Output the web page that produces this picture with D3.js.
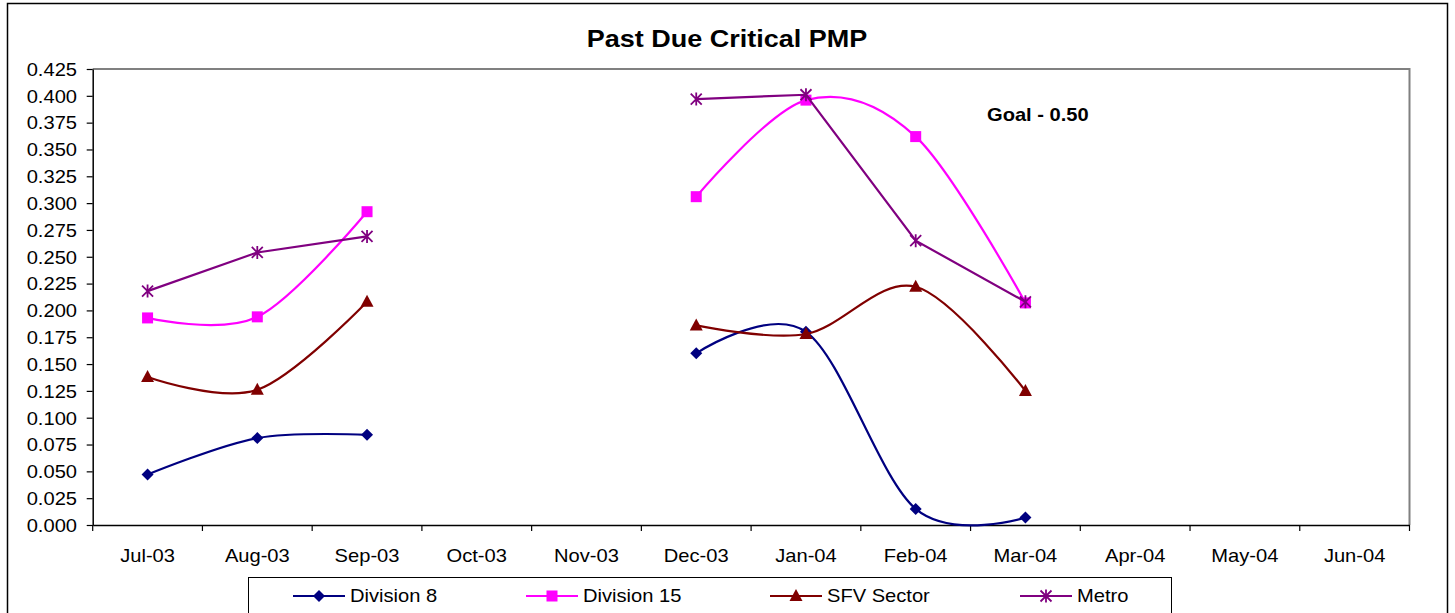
<!DOCTYPE html>
<html><head><meta charset="utf-8">
<script src="https://cdn.jsdelivr.net/npm/d3@7"></script>
<style>html,body{margin:0;padding:0;background:#fff}svg{display:block}text{font-family:"Liberation Sans",Arial,sans-serif}</style>
</head><body>
<svg id="c" width="1455" height="613"></svg>
<script>
const months = ["Jul-03","Aug-03","Sep-03","Oct-03","Nov-03","Dec-03","Jan-04","Feb-04","Mar-04","Apr-04","May-04","Jun-04"];
const division8  = [0.047,0.081,0.084,null,null,0.160,0.180,0.015,0.007,null,null,null];
const division15 = [0.193,0.194,0.292,null,null,0.306,0.396,0.362,0.207,null,null,null];
const sfvSector  = [0.138,0.126,0.208,null,null,0.186,0.178,0.222,0.125,null,null,null];
const metro      = [0.218,0.254,0.269,null,null,0.397,0.401,0.265,0.208,null,null,null];
const seriesNames = ["Division 8","Division 15","SFV Sector","Metro"];
const yTicks = d3.range(0, 18).map(i => i * 0.025);
const title = "Past Due Critical PMP";
const goalLabel = "Goal - 0.50";

const SX = 1.15;
const svg = d3.select("#c");
const L = 92.7, R = 1409.5, T = 69, B = 525;

const x = d3.scaleBand().domain(months).range([L, R]).padding(0);
const y = d3.scaleLinear().domain([0, 0.425]).range([B, T]);

// outer frame
svg.append("rect").attr("x",7.5).attr("y",3.5).attr("width",1440).attr("height",700)
  .attr("fill","none").attr("stroke","#000").attr("stroke-width",1.5);

// plot border (grey top/right)
svg.append("path").attr("d",`M${L},${T}H${R}V${B}`).attr("fill","none")
  .attr("stroke","#808080").attr("stroke-width",2);

// y axis
const ya = svg.append("g").attr("transform",`translate(${L},0)`)
  .call(d3.axisLeft(y).tickValues(yTicks).tickFormat(d3.format(".3f")).tickSize(6).tickSizeOuter(0));
ya.select(".domain").attr("stroke","#000").attr("stroke-width",1.5);
ya.selectAll(".tick line").attr("stroke","#000").attr("stroke-width",1.2);
ya.selectAll(".tick text").attr("font-size","17.5px").attr("fill","#000")
  .attr("font-family",'"Liberation Sans",Arial,sans-serif')
  .attr("x",-15.7/SX).attr("dy","0.36em").attr("transform",`scale(${SX},1)`);

// x axis
const xa = svg.append("g").attr("transform",`translate(0,${B})`)
  .call(d3.axisBottom(x).tickSize(0).tickSizeOuter(0));
xa.select(".domain").attr("stroke","#000").attr("stroke-width",1.5);
xa.selectAll(".tick text").attr("font-size","17.5px").attr("fill","#000")
  .attr("font-family",'"Liberation Sans",Arial,sans-serif')
  .attr("x",0).attr("y",37).attr("dy",0).attr("transform",`scale(${SX},1)`);
// x axis ticks at category boundaries
const bounds = months.map(m => x(m)).concat([x.range()[1]]);
svg.append("g").selectAll("line").data(bounds).join("line")
  .attr("x1",d=>d).attr("x2",d=>d).attr("y1",B).attr("y2",B+6)
  .attr("stroke","#000").attr("stroke-width",1.2);

// title & goal
svg.append("text").attr("transform",`translate(727,47) scale(${SX},1)`).attr("text-anchor","middle")
  .attr("font-size","23.5px").attr("font-weight","bold").text(title);
svg.append("text").attr("transform",`translate(987,121) scale(${SX},1)`)
  .attr("font-size","17.5px").attr("font-weight","bold").text(goalLabel);

const colors = ["#000080","#FF00FF","#800000","#800080"];
const data = [division8, division15, sfvSector, metro];
const smooth = [true,true,true,false];
const cx = i => x(months[i]) + x.bandwidth()/2;

function marker(g, type, color, px, py) {
  if (type === 0) {
    g.append("path").attr("d",`M${px},${py-6}L${px+6},${py}L${px},${py+6}L${px-6},${py}Z`).attr("fill",color);
  } else if (type === 1) {
    g.append("rect").attr("x",px-5.5).attr("y",py-5.5).attr("width",11).attr("height",11).attr("fill",color);
  } else if (type === 2) {
    g.append("path").attr("d",`M${px},${py-7}L${px+6.5},${py+5}L${px-6.5},${py+5}Z`).attr("fill",color);
  } else {
    g.append("path").attr("d",`M${px-5.5},${py-5.5}L${px+5.5},${py+5.5}M${px+5.5},${py-5.5}L${px-5.5},${py+5.5}M${px},${py-6.5}V${py+6.5}`)
      .attr("stroke",color).attr("stroke-width",1.8).attr("fill","none");
  }
}

data.forEach((vals, si) => {
  const g = svg.append("g");
  const line = d3.line().defined(d => d != null).x((d,i)=>cx(i)).y(d=>y(d))
    .curve(smooth[si] ? d3.curveCardinal.tension(0) : d3.curveLinear);
  g.append("path").attr("d", line(vals)).attr("fill","none").attr("stroke",colors[si]).attr("stroke-width",2.2);
  vals.forEach((v,i) => { if (v != null) marker(g, si, colors[si], cx(i), y(v)); });
});

// legend
svg.append("rect").attr("x",248.5).attr("y",577.5).attr("width",923).attr("height",60)
  .attr("fill","#fff").attr("stroke","#000").attr("stroke-width",1);
const legX = [293, 526, 770, 1020];
seriesNames.forEach((n, si) => {
  const g = svg.append("g");
  const ly = 596;
  g.append("line").attr("x1",legX[si]).attr("x2",legX[si]+52).attr("y1",ly).attr("y2",ly)
    .attr("stroke",colors[si]).attr("stroke-width",2.2);
  marker(g, si, colors[si], legX[si]+26, ly);
  g.append("text").attr("transform",`translate(${legX[si]+57},602) scale(${SX},1)`)
    .attr("font-size","17.5px").text(n);
});
</script>
</body></html>
